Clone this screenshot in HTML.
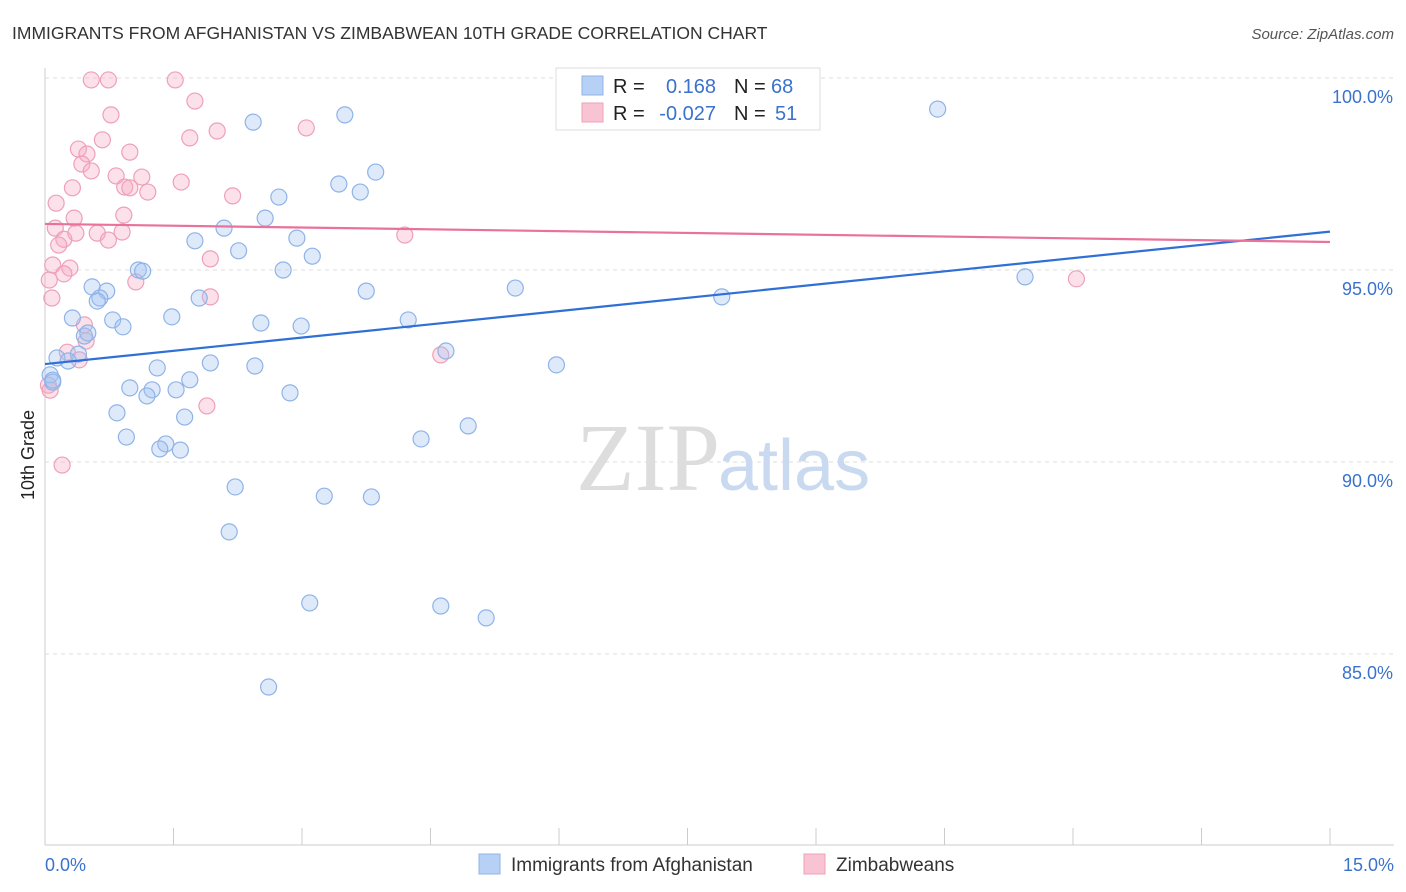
<!DOCTYPE html>
<html><head><meta charset="utf-8"><style>
body{margin:0;background:#fff;font-family:"Liberation Sans",sans-serif;}
svg{display:block}
</style></head><body>
<svg id="chart" width="1406" height="892">
<text x="12" y="39" font-size="17.5" fill="#333">IMMIGRANTS FROM AFGHANISTAN VS ZIMBABWEAN 10TH GRADE CORRELATION CHART</text>
<text x="1394" y="39" font-size="15" fill="#555" font-style="italic" text-anchor="end">Source: ZipAtlas.com</text>
<text x="34" y="455" font-size="18" fill="#222" transform="rotate(-90 34 455)" text-anchor="middle">10th Grade</text>
<g id="grid"></g>
<text x="720" y="490" font-size="96" fill="#ddd" font-family="Liberation Serif,serif" text-anchor="end">ZIP</text>
<text x="718" y="490" font-size="72" fill="#c9d9ef" text-anchor="start">atlas</text>
<g id="pts"></g>
<g id="lines"></g>
<g>
<rect x="556" y="68" width="264" height="62" fill="#fff" stroke="#ddd"/>
<rect x="582" y="76" width="21" height="19" fill="#b7d0f5" stroke="#8fb3e8"/>
<rect x="582" y="103" width="21" height="19" fill="#f8c4d4" stroke="#eea0b8"/>
<text x="613" y="93" font-size="20" fill="#222">R =</text>
<text x="716" y="93" font-size="20" fill="#3a72cc" text-anchor="end">0.168</text>
<text x="734" y="93" font-size="20" fill="#222">N =</text>
<text x="771" y="93" font-size="20" fill="#3a72cc">68</text>
<text x="613" y="120" font-size="20" fill="#222">R =</text>
<text x="716" y="120" font-size="20" fill="#3a72cc" text-anchor="end">-0.027</text>
<text x="734" y="120" font-size="20" fill="#222">N =</text>
<text x="775" y="120" font-size="20" fill="#3a72cc">51</text>
</g>
<g>
<rect x="479" y="854" width="21" height="20" fill="#b7d0f5" stroke="#8fb3e8"/>
<text x="511" y="871" font-size="19" fill="#333">Immigrants from Afghanistan</text>
<rect x="804" y="854" width="21" height="20" fill="#f8c4d4" stroke="#eea0b8"/>
<text x="836" y="871" font-size="19" fill="#333">Zimbabweans</text>
</g>
</svg>
<script>
const yTicks=[100,95,90,85];
const yTickLabels=["100.0%","95.0%","90.0%","85.0%"];
const xTickLabels=["0.0%","15.0%"];
const blueX=[6.87,2.43,3.5,10.42,3.86,3.43,3.68,2.73,2.57,2.09,1.75,2.26,2.94,3.12,2.78,1.09,1.14,0.55,0.72,0.64,0.61,1.80,3.75,5.49,7.90,11.44,0.32,0.79,0.91,1.48,2.52,2.99,4.24,0.46,0.50,4.68,0.39,0.14,0.27,1.93,2.45,1.31,5.97,0.06,0.09,0.99,1.25,1.53,1.69,1.19,2.86,0.84,1.63,0.95,1.41,1.34,1.58,4.39,4.94,2.22,3.26,3.81,2.15,3.09,4.62,5.15,2.61,0.09];
const blueY=[99.95,98.85,99.04,99.19,97.55,97.24,97.03,96.90,96.35,96.09,95.76,95.50,95.83,95.36,95.0,95.0,94.97,94.56,94.45,94.27,94.19,94.27,94.45,94.53,94.30,94.82,93.75,93.70,93.52,93.78,93.62,93.54,93.70,93.28,93.36,92.89,92.81,92.71,92.63,92.58,92.50,92.45,92.53,92.27,92.08,91.93,91.88,91.88,92.14,91.72,91.80,91.28,91.17,90.65,90.47,90.34,90.31,90.60,90.94,89.35,89.11,89.09,88.18,86.33,86.25,85.94,84.14,92.13];
const pinkX=[0.54,0.74,1.52,1.75,0.77,2.01,3.05,1.69,0.67,0.39,0.49,0.99,0.43,0.54,0.83,1.13,0.93,0.99,0.32,1.59,1.20,2.19,0.13,0.92,0.34,0.12,0.36,0.61,0.90,4.20,0.22,0.16,0.74,1.93,0.09,0.29,0.22,1.06,0.05,1.93,0.08,0.46,0.48,0.26,0.40,4.62,1.89,0.20,12.04,0.04,0.06];
const pinkY=[99.95,99.95,99.95,99.40,99.04,98.62,98.70,98.44,98.39,98.15,98.02,98.07,97.76,97.58,97.45,97.42,97.16,97.14,97.14,97.29,97.03,96.93,96.74,96.43,96.35,96.09,95.96,95.96,95.99,95.91,95.80,95.65,95.78,95.29,95.13,95.05,94.90,94.69,94.74,94.30,94.27,93.57,93.15,92.86,92.66,92.79,91.46,89.92,94.77,92.0,91.87];
const blueTrend=[92.55,96.0];
const pinkTrend=[96.2,95.73];
const X=v=>45+v*(1285/15), Y=v=>78+(100-v)*38.4;
const ns="http://www.w3.org/2000/svg";
function mk(t,a,p){const e=document.createElementNS(ns,t);for(const k in a)e.setAttribute(k,a[k]);p.appendChild(e);return e;}
const grid=document.getElementById('grid');
const ax=mk('line',{x1:45,y1:68,x2:45,y2:845,stroke:'#ccc'},grid);


const bx=mk('line',{x1:45,y1:845,x2:1394,y2:845,stroke:'#ccc'},grid);


yTicks.forEach((t,i)=>{
 const g=mk('line',{x1:45,y1:Y(t),x2:1394,y2:Y(t),stroke:'#ddd','stroke-dasharray':'4,4'},grid);
 
 
 const l=mk('text',{x:1393,y:Y(t)+25,'font-size':18,fill:'#3a72cc','text-anchor':'end'},grid);l.textContent=yTickLabels[i];
 
 
});
for(let i=0;i<=10;i++){const t=mk('line',{x1:X(i*1.5),y1:828,x2:X(i*1.5),y2:845,stroke:'#ccc'},grid);
 
 }
[[0,45,'start'],[1,1394,'end']].forEach(([i,x,a])=>{const l=mk('text',{x:x,y:871,'font-size':18,fill:'#3a72cc','text-anchor':a},grid);l.textContent=xTickLabels[i];
 
 });
const pts=document.getElementById('pts');
pinkX.forEach((x,i)=>{const c=mk('circle',{cx:X(x),cy:Y(pinkY[i]),r:8,fill:'rgba(245,170,195,0.35)',stroke:'#eea0b8','stroke-width':1.2},pts);
 
 });
blueX.forEach((x,i)=>{const c=mk('circle',{cx:X(x),cy:Y(blueY[i]),r:8,fill:'rgba(160,195,240,0.35)',stroke:'#8fb3e8','stroke-width':1.2},pts);
 
 });
const lines=document.getElementById('lines');
const bl=mk('line',{x1:X(0),y1:Y(blueTrend[0]),x2:X(15),y2:Y(blueTrend[1]),stroke:'#2f6fd6','stroke-width':2.2},lines);


const pl=mk('line',{x1:X(0),y1:Y(pinkTrend[0]),x2:X(15),y2:Y(pinkTrend[1]),stroke:'#e8729a','stroke-width':2.2},lines);


</script>
</body></html>
